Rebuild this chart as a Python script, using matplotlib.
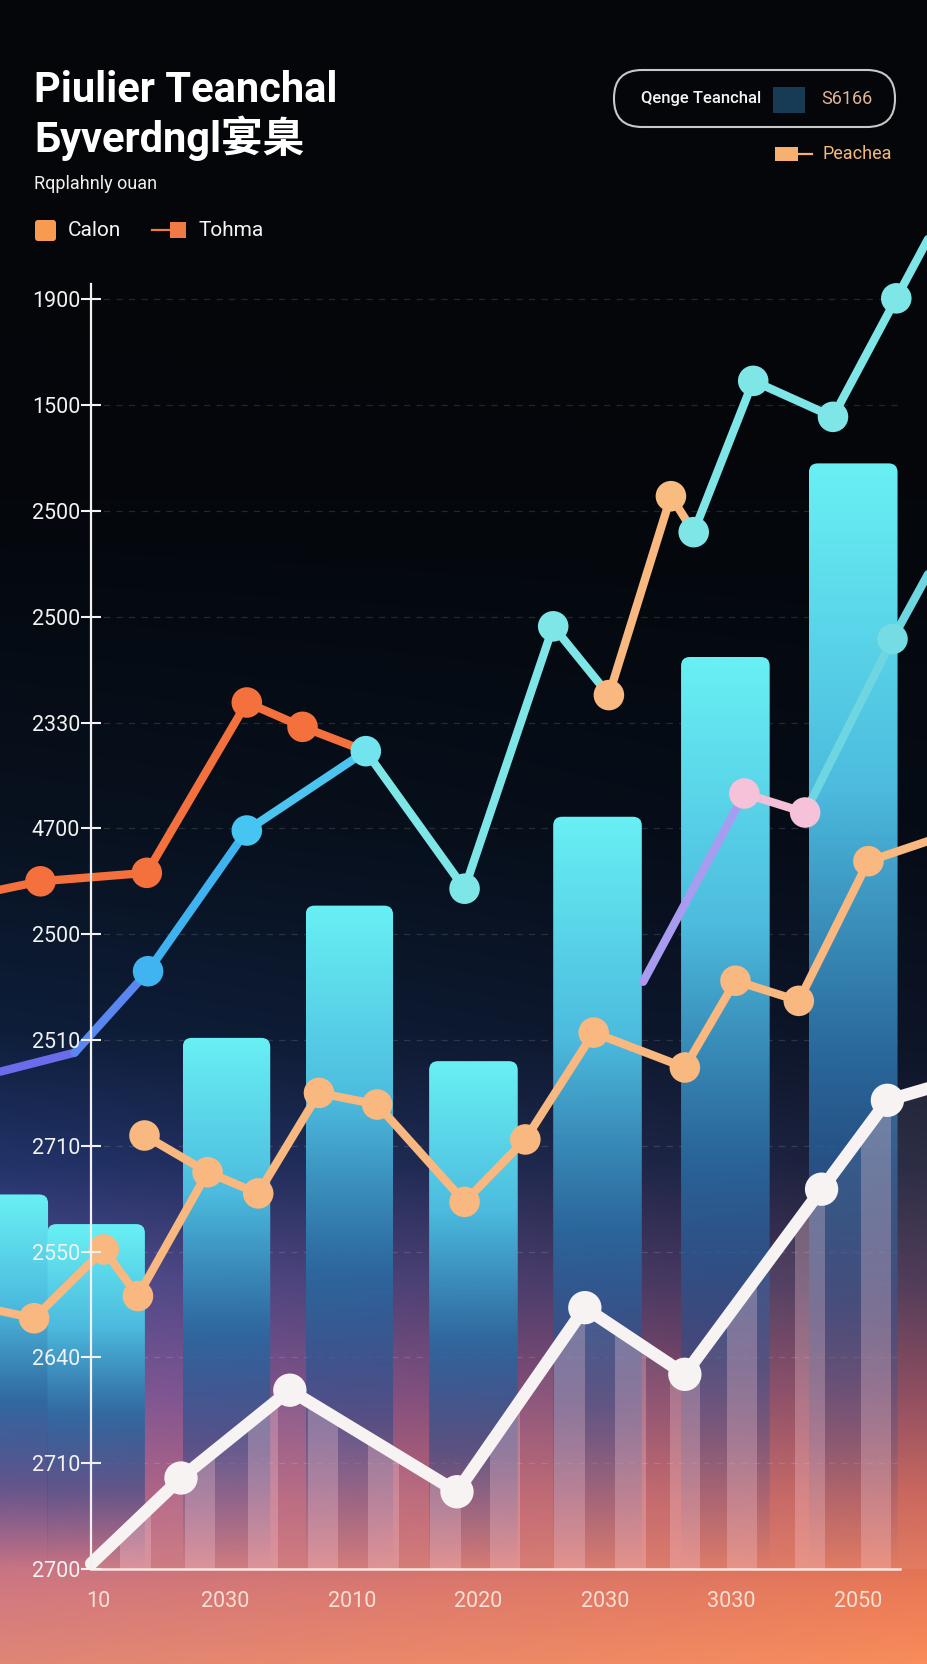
import numpy as np
import matplotlib
matplotlib.use("Agg")
import matplotlib.pyplot as plt
from matplotlib.patches import FancyBboxPatch, Rectangle, Polygon
from matplotlib.colors import to_rgb

plt.rcParams['font.family'] = ['Roboto', 'Noto Sans CJK SC', 'DejaVu Sans']

# ---- data ----
y_labels = ["2700", "2710", "2640", "2550", "2710", "2510", "2500",
            "4700", "2330", "2500", "2500", "1500", "1900"]
x_labels = ["10", "2030", "2010", "2020", "2030", "3030", "2050"]

bar_x = [-0.76, -0.02, 1.01, 1.98, 2.96, 3.94, 4.95, 5.96]
bar_top = [3.54, 3.26, 5.02, 6.27, 4.80, 7.11, 8.62, 10.45]
bar_w = [0.72, 0.77, 0.69, 0.69, 0.70, 0.70, 0.70, 0.70]

red_x = [-0.78, -0.46, 0.38, 1.17, 1.61, 2.11]
red_y = [6.42, 6.50, 6.58, 8.19, 7.96, 7.73]

main_x = [-0.78, -0.19, 0.39, 1.17, 2.11, 2.89, 3.59, 4.03, 4.52, 4.70, 5.17, 5.80, 6.30, 6.60]
main_y = [4.70, 4.88, 5.65, 6.98, 7.73, 6.43, 8.91, 8.26, 10.14, 9.80, 11.23, 10.89, 12.01, 12.68]

sec_x = [4.30, 5.10, 5.58, 6.27, 6.60]
sec_y = [5.55, 7.33, 7.15, 8.79, 9.51]

pea_x = [-0.78, -0.51, 0.04, 0.31, 0.86, 1.26, 1.74, 2.20, 2.89, 3.37, 3.91, 4.63, 5.03, 5.53, 6.08, 6.60]
pea_y = [2.44, 2.37, 3.02, 2.58, 3.75, 3.55, 4.50, 4.39, 3.47, 4.06, 5.07, 4.74, 5.56, 5.37, 6.69, 6.90]
pea2_x = [0.36, 0.86]
pea2_y = [4.10, 3.75]

wht_x = [-0.06, 0.65, 1.51, 2.83, 3.84, 4.63, 5.71, 6.23, 6.60]
wht_y = [0.05, 0.86, 1.69, 0.73, 2.47, 1.84, 3.59, 4.43, 4.56]

stripe_x = [0.29, 0.80, 1.30, 1.77, 2.25, 2.74, 3.21, 3.72, 4.20, 4.63, 5.08, 5.62, 6.14]

W, H = 928, 1664
fig = plt.figure(figsize=(W / 100, H / 100), dpi=100)

# ---- background gradient ----
stops = [0, 0.30, 0.50, 0.62, 0.70, 0.77, 0.84, 0.90, 0.96, 1.0]
left_c = ['#040609', '#04070c', '#081220', '#0e1e3a', '#22336a', '#524e94',
          '#7e5a9e', '#ac6690', '#d27a80', '#e08676']
right_c = ['#040609', '#04070b', '#060c16', '#0c1426', '#1c2038', '#44304e',
           '#8a4456', '#c86054', '#ec7c56', '#f88c5a']
yy = np.linspace(0, 1, H)
lc = np.array([to_rgb(c) for c in left_c])
rc = np.array([to_rgb(c) for c in right_c])
lcol = np.stack([np.interp(yy, stops, lc[:, k]) for k in range(3)], axis=1)
rcol = np.stack([np.interp(yy, stops, rc[:, k]) for k in range(3)], axis=1)
wx = np.linspace(0, 1, W)[None, :, None]
bg = lcol[:, None, :] * (1 - wx) + rcol[:, None, :] * wx

bg_ax = fig.add_axes([0, 0, 1, 1], zorder=-1)
bg_ax.imshow(bg, extent=[0, 1, 0, 1], aspect='auto')
bg_ax.axis('off')

# ---- main axes ----
ax = fig.add_axes([0, 95 / H, 1, 1569 / H])
ax.set_facecolor('none')
x0 = -0.058
xend = 6.33

# gridlines
ax.hlines(range(1, 13), x0, xend, colors=(1, 1, 1, 0.13), lw=0.9,
          linestyles=(0, (5, 5)), zorder=1)

# bars with vertical gradient
g_t = [0, 0.3, 0.55, 0.78, 1.0]
g_c = np.array([to_rgb(c) for c in ['#68f0f4', '#4cbade', '#2b6ba2', '#2c4a88', '#3c4a8e']])
g_a = [1, 1, 0.92, 0.55, 0.0]
tt = np.linspace(0, 1, 256)
grad = np.zeros((256, 1, 4))
for k in range(3):
    grad[:, 0, k] = np.interp(tt, g_t, g_c[:, k])
grad[:, 0, 3] = np.interp(tt, g_t, g_a)

for xc, top, w in zip(bar_x, bar_top, bar_w):
    patch = FancyBboxPatch((xc - w / 2, 0), w, top,
                           boxstyle="round,pad=0,rounding_size=0.07",
                           mutation_aspect=126.6 / 105.8,
                           facecolor='none', edgecolor='none')
    ax.add_patch(patch)
    im = ax.imshow(grad, extent=[xc - w / 2, xc + w / 2, 0, top], aspect='auto',
                   zorder=2, interpolation='bilinear')
    im.set_clip_path(patch)

# striped area under the white line
poly = Polygon(list(zip(wht_x, wht_y)) + [(wht_x[-1], 0), (wht_x[0], 0)],
               closed=True, facecolor=(1, 0.9, 0.92, 0.07), edgecolor='none', zorder=3)
ax.add_patch(poly)
for sx in stripe_x:
    r = Rectangle((sx - 0.12, 0), 0.24, 13, facecolor=(1, 0.82, 0.86, 0.28),
                  edgecolor='none', zorder=3)
    ax.add_patch(r)
    r.set_clip_path(poly)


def draw_path(xs, ys, seg_colors, lw, z, mk_idx, mk_colors, ms=22):
    for i in range(len(xs) - 1):
        ax.plot(xs[i:i + 2], ys[i:i + 2], color=seg_colors[i], lw=lw,
                solid_capstyle='round', zorder=z)
    ax.scatter([xs[i] for i in mk_idx], [ys[i] for i in mk_idx], s=ms ** 2,
               c=mk_colors, linewidths=0, zorder=z + 0.1)


aqua = '#7ee6e6'
peach = '#f8b880'

# peach line
draw_path(pea_x, pea_y, [peach] * 15, 6, 4, range(1, 15), [peach] * 14)
draw_path(pea2_x, pea2_y, [peach], 6, 4, [0], [peach])

# orange-red line
draw_path(red_x, red_y, ['#f4703c'] * 5, 6, 5, range(1, 5), ['#f4703c'] * 4)

# main blue -> aqua line
main_seg = ['#6a6cec', '#5a86f0', '#3fb2f0', '#4cc4f0', aqua, aqua, aqua,
            peach, peach, aqua, aqua, aqua, aqua]
main_mk = ['#3fb4f0', '#46c4f2', '#72e4ee', aqua, aqua, peach, '#f8bc80',
           aqua, aqua, aqua, aqua]
draw_path(main_x, main_y, main_seg, 6, 5.5, range(2, 13), main_mk)

# second right line
draw_path(sec_x, sec_y, ['#a89cf0', '#f6bfd8', '#6ed6e0', '#6ed6e0'], 6, 5,
          [1, 2, 3], ['#f6c2da', '#f6c2da', '#74dce2'])

# white line
draw_path(wht_x, wht_y, ['#f7f3f3'] * 8, 9, 6, range(1, 8), ['#f7f3f3'] * 7, ms=24)

# axes styling
ax.set_xlim(-0.7796, 6.5506)
ax.set_ylim(0, 1569 / 105.8)
for s in ['top', 'right']:
    ax.spines[s].set_visible(False)
ax.spines['left'].set_position(('data', x0))
ax.spines['left'].set_bounds(0, 12.15)
ax.spines['left'].set_color('#f4f0f0')
ax.spines['left'].set_linewidth(1.6)
ax.spines['bottom'].set_bounds(x0, xend)
ax.spines['bottom'].set_color('#fbe6e0')
ax.spines['bottom'].set_linewidth(1.8)
ax.spines['left'].set_zorder(7)
ax.spines['bottom'].set_zorder(7)

ax.set_yticks(range(13))
ax.set_yticklabels(y_labels)
ax.set_xticks(range(7))
ax.set_xticklabels(x_labels)
ax.tick_params(axis='y', direction='inout', length=14, width=1.5, colors='#f2f2f2',
               labelsize=15.5, pad=1)
ax.tick_params(axis='x', length=0, pad=16, labelsize=15.5, labelcolor='#f8e0d6')
ax.yaxis.set_zorder(8)
ax.xaxis.set_zorder(8)

# ---- overlay for titles and legends (pixel coordinates) ----
ov = fig.add_axes([0, 0, 1, 1], zorder=5)
ov.set_xlim(0, W)
ov.set_ylim(H, 0)
ov.axis('off')

ov.text(34, 90, "Piulier Teanchal", fontsize=30, fontweight='bold', color='white', va='center')
ov.text(34, 138, "Бyverdngl宴臬", fontsize=30, fontweight='bold', color='white', va='center')
ov.text(34, 184, "Rqplahnly ouan", fontsize=13, color='#f0f0f0', va='center')

ov.add_patch(FancyBboxPatch((35, 220), 21, 21, boxstyle="round,pad=0,rounding_size=3",
                            facecolor='#f89a50', edgecolor='none'))
ov.text(68, 231, "Calon", fontsize=15, color='#f4f4f4', va='center')
ov.plot([152, 172], [230, 230], color='#f07a45', lw=1.6)
ov.add_patch(Rectangle((170, 222), 16, 16, facecolor='#f07a45', edgecolor='none'))
ov.text(199, 231, "Tohma", fontsize=15, color='#f4f4f4', va='center')

ov.add_patch(FancyBboxPatch((614, 70), 281, 57, boxstyle="round,pad=0,rounding_size=28",
                            facecolor='none', edgecolor='#c8c8c8', lw=1.5))
ov.text(641, 99, "Qenge Teanchal", fontsize=12, fontweight='medium', color='#f4f4f4', va='center')
ov.add_patch(Rectangle((773, 87), 32, 26, facecolor='#173a55', edgecolor='none'))
ov.text(821, 99, "S6166", fontsize=13, color='#e2b497', va='center')

ov.add_patch(Rectangle((775, 147), 23, 14, facecolor='#f8b070', edgecolor='none'))
ov.plot([798, 812], [154, 154], color='#f8b070', lw=1.6)
ov.text(823, 154, "Peachea", fontsize=13, color='#f2b87e', va='center')

fig.savefig("out.png", dpi=100)
